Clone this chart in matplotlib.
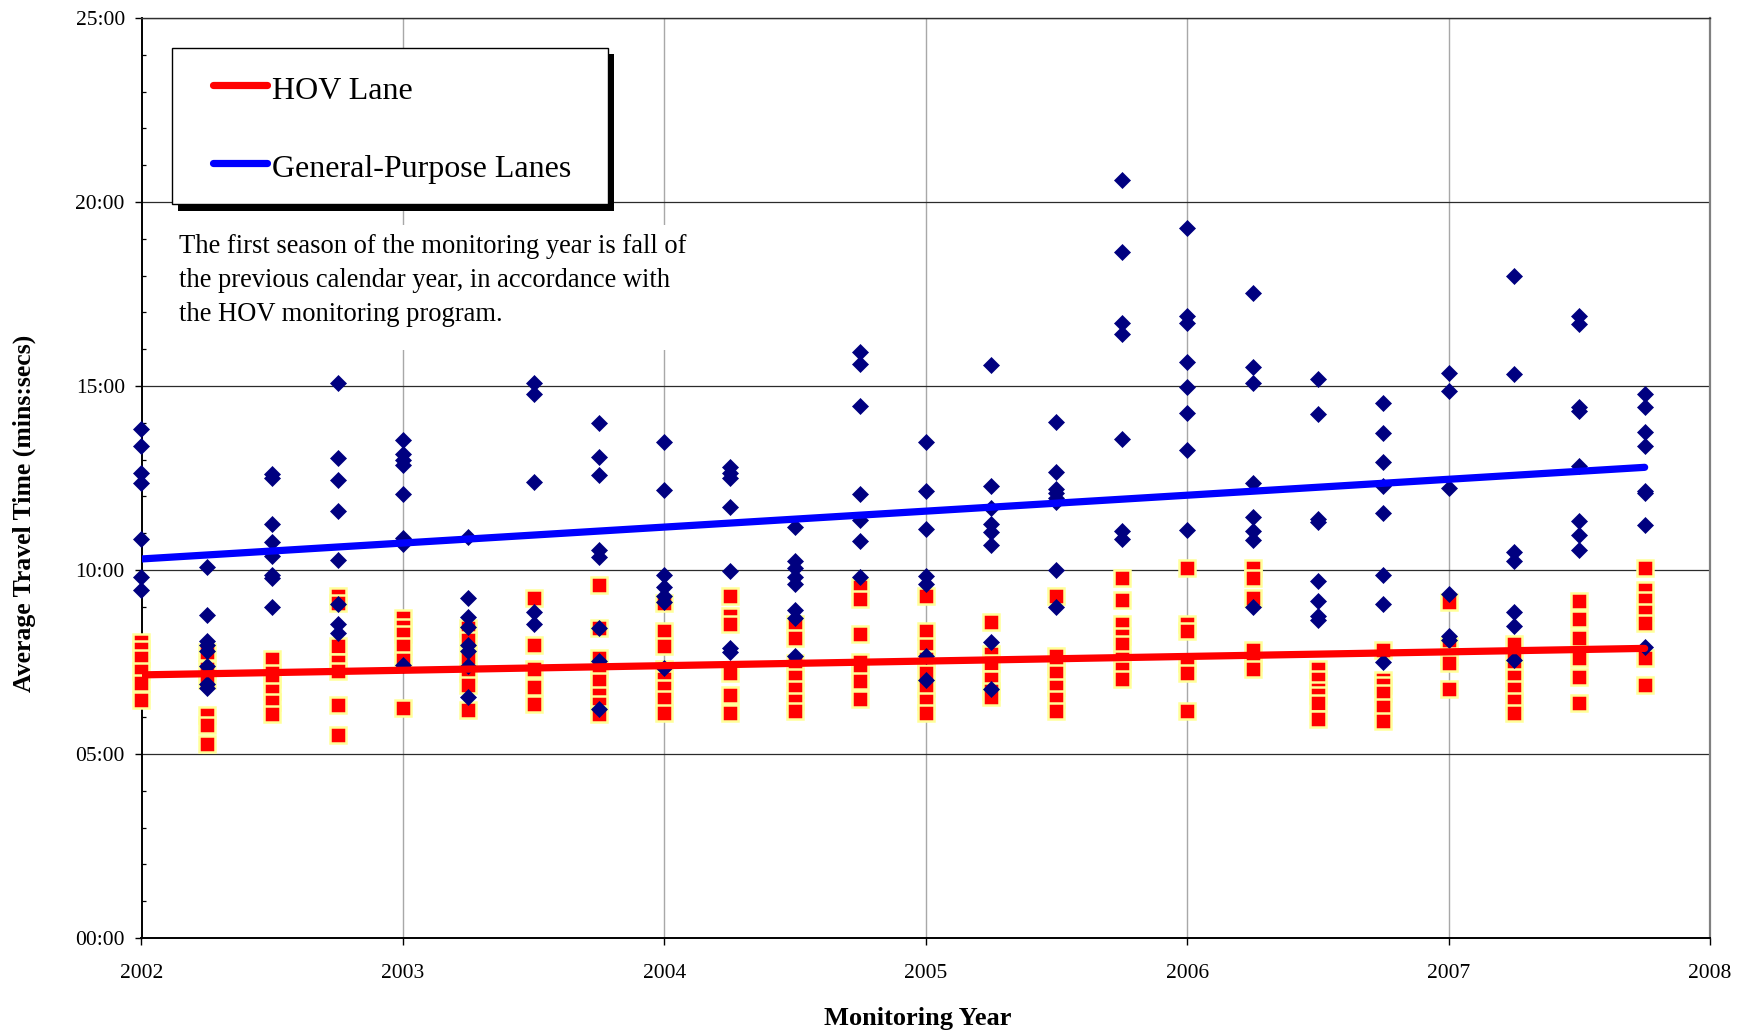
import matplotlib
matplotlib.use("Agg")
import matplotlib.pyplot as plt
from matplotlib.patches import Rectangle
from matplotlib.lines import Line2D
from matplotlib.ticker import FuncFormatter, MultipleLocator

plt.rcParams["font.family"] = ["Liberation Serif", "DejaVu Serif"]

# Monitoring seasons (quarter positions within each monitoring year)
quarters = [2002.0 + 0.25 * i for i in range(24)]

# Average travel times in minutes, general-purpose lanes, one list per season
gp_times = [
    [13.83, 13.38, 12.63, 12.36, 10.84, 9.82, 9.46],
    [10.08, 8.78, 8.08, 7.95, 7.8, 7.4, 6.9, 6.78],
    [12.6, 12.5, 11.24, 10.75, 10.37, 9.87, 9.77, 9.0],
    [15.09, 13.05, 12.44, 11.59, 10.27, 9.07, 8.53, 8.28],
    [13.52, 13.14, 12.98, 12.84, 12.07, 10.86, 10.7, 7.42],
    [10.91, 9.25, 8.71, 8.45, 7.96, 7.8, 7.38, 6.55],
    [15.07, 14.77, 12.38, 8.87, 8.53],
    [14.0, 13.06, 12.58, 10.54, 10.35, 8.42, 7.53, 6.22],
    [13.48, 12.17, 9.87, 9.55, 9.3, 9.12, 7.34],
    [12.8, 12.64, 12.5, 11.72, 9.98, 7.89, 7.78],
    [11.16, 10.25, 10.05, 9.82, 9.62, 8.91, 8.69, 7.67],
    [15.93, 15.61, 14.45, 12.07, 11.35, 10.78, 9.82],
    [13.48, 12.15, 11.12, 9.84, 9.63, 7.67, 7.0],
    [15.58, 12.28, 11.69, 11.26, 11.04, 10.67, 8.05, 6.76],
    [14.03, 12.66, 12.2, 12.1, 11.95, 11.85, 10.0, 8.99],
    [20.61, 18.65, 16.71, 16.41, 13.57, 11.05, 10.84],
    [19.29, 16.91, 16.71, 15.66, 14.98, 14.27, 13.25, 11.1],
    [17.53, 15.52, 15.07, 12.37, 11.43, 11.05, 10.82, 9.0],
    [15.18, 14.24, 11.38, 11.3, 9.71, 9.17, 8.74, 8.64],
    [14.53, 13.73, 12.93, 12.28, 11.55, 9.87, 9.07, 7.51],
    [15.36, 14.86, 12.23, 9.34, 8.21, 8.1],
    [18.0, 15.32, 10.48, 10.25, 8.85, 8.47, 7.56],
    [16.89, 16.68, 14.43, 14.32, 12.82, 11.32, 10.94, 10.54],
    [14.77, 14.43, 13.76, 13.38, 12.15, 12.08, 11.21, 7.91],
]

# Average travel times in minutes, HOV lane, one list per season
hov_times = [
    [8.05, 7.85, 7.62, 7.25, 6.92, 6.47],
    [7.78, 7.3, 7.0, 6.05, 5.8, 5.26],
    [7.57, 7.2, 7.05, 6.71, 6.42, 6.1],
    [9.28, 9.1, 7.94, 7.51, 7.25, 6.33, 5.51],
    [8.69, 8.45, 8.26, 7.94, 7.55, 6.25],
    [8.42, 8.1, 7.62, 7.19, 6.87, 6.2],
    [9.25, 7.96, 7.32, 6.82, 6.35],
    [9.6, 8.42, 7.6, 7.3, 6.98, 6.6, 6.35, 6.1],
    [9.1, 8.33, 7.94, 7.3, 7.05, 6.8, 6.5, 6.12],
    [9.28, 8.74, 8.53, 7.19, 6.6, 6.12],
    [8.53, 8.15, 7.46, 7.1, 6.76, 6.44, 6.17],
    [9.55, 9.22, 8.26, 7.51, 7.3, 6.98, 6.5],
    [9.28, 8.33, 7.94, 7.57, 7.2, 6.8, 6.44, 6.12],
    [8.58, 7.72, 7.46, 7.03, 6.7, 6.55],
    [9.3, 7.67, 7.4, 7.19, 6.82, 6.5, 6.17],
    [9.77, 9.18, 8.53, 8.2, 7.99, 7.57, 7.3, 7.03],
    [10.06, 8.53, 8.35, 7.46, 7.2, 6.17],
    [10.06, 9.77, 9.23, 7.83, 7.51, 7.3],
    [7.3, 7.05, 6.75, 6.6, 6.39, 5.96],
    [7.83, 7.0, 6.87, 6.65, 6.28, 5.9],
    [9.12, 7.94, 7.67, 7.46, 6.76],
    [7.99, 7.62, 7.3, 7.08, 6.76, 6.44, 6.12],
    [9.15, 8.66, 8.15, 7.62, 7.08, 6.39],
    [10.06, 9.45, 9.18, 8.85, 8.56, 7.62, 6.87],
]

# Linear trend lines (start and end of the monitoring period)
trend_years = [2002.0, 2007.75]
hov_trend = [7.15, 7.87]
gp_trend = [10.30, 12.79]

year_ticks = [2002, 2003, 2004, 2005, 2006, 2007, 2008]
legend_labels = ["HOV Lane", "General-Purpose Lanes"]
note_lines = ["The first season of the monitoring year is fall of",
              "the previous calendar year, in accordance with",
              "the HOV monitoring program."]

W, H = 1747, 1036
fig = plt.figure(figsize=(W / 100, H / 100), dpi=100)
ax_l, ax_r, ax_t, ax_b = 141.5, 1710.0, 18.0, 938.0
ax = fig.add_axes([ax_l / W, (H - ax_b) / H, (ax_r - ax_l) / W, (ax_b - ax_t) / H])

# Scatter points
hx = [q for q, vals in zip(quarters, hov_times) for _ in vals]
hy = [v for vals in hov_times for v in vals]
gx = [q for q, vals in zip(quarters, gp_times) for _ in vals]
gy = [v for vals in gp_times for v in vals]

ax.plot(hx, hy, linestyle="none", marker="s", markersize=11.3,
        markerfacecolor="#FF0000", markeredgecolor="#FFFF99",
        markeredgewidth=1.8, zorder=3, clip_on=False)
ax.plot(gx, gy, linestyle="none", marker="D", markersize=8.2,
        markerfacecolor="#000080", markeredgecolor="#000080",
        markeredgewidth=0.5, zorder=4, clip_on=False)

# Trend lines
ax.plot(trend_years, hov_trend, color="#FF0000", lw=5.2,
        solid_capstyle="round", zorder=5)
ax.plot(trend_years, gp_trend, color="#0000FF", lw=5.2,
        solid_capstyle="round", zorder=5)

# Axes
ax.set_xlim(2002, 2008)
ax.set_ylim(0, 25)
ax.set_xticks(year_ticks)
ax.set_xticklabels([str(y) for y in year_ticks])
ax.yaxis.set_major_locator(MultipleLocator(5))
ax.yaxis.set_minor_locator(MultipleLocator(1))


def mmss(v, pos):
    m = int(v)
    s = int(round((v - m) * 60))
    return f"{m:02d}:{s:02d}"


ax.yaxis.set_major_formatter(FuncFormatter(mmss))
ax.tick_params(axis="both", which="major", labelsize=15.5, length=5,
               width=1, direction="out", color="black")
ax.tick_params(axis="y", which="major", pad=7)
ax.tick_params(axis="x", which="major", pad=14)
ax.tick_params(axis="y", which="minor", length=3.2, width=0.9, direction="in")
ax.tick_params(axis="x", which="minor", length=0)

ax.grid(axis="y", which="major", color="#2b2b2b", lw=0.9, zorder=1)
ax.grid(axis="x", which="major", color="#a8a8a8", lw=1.0, zorder=1)
ax.set_axisbelow(True)

for side in ("left", "bottom"):
    ax.spines[side].set_color("black")
    ax.spines[side].set_linewidth(1.4)
ax.spines["top"].set_color("#303030")
ax.spines["top"].set_linewidth(1.0)
ax.spines["right"].set_color("#808080")
ax.spines["right"].set_linewidth(1.6)

ax.set_xlabel("Monitoring Year", fontsize=19, fontweight="bold",
              ha="center", va="center")
ax.xaxis.set_label_coords((918 - ax_l) / (ax_r - ax_l), (ax_b - 1019) / (ax_b - ax_t))
ax.set_ylabel("Average Travel Time (mins:secs)", fontsize=18.5,
              fontweight="bold", ha="center", va="center")
ax.yaxis.set_label_coords((24.5 - ax_l) / (ax_r - ax_l), (ax_b - 513.5) / (ax_b - ax_t))


def afx(px):
    return (px - ax_l) / (ax_r - ax_l)


def afy(py):
    return (ax_b - py) / (ax_b - ax_t)


# Legend box with a solid drop shadow
bx0, bx1, by0, by1 = 172.0, 608.0, 47.7, 204.0
sdx, sdy = 5.5, 6.5
ax.add_patch(Rectangle((afx(bx0 + sdx), afy(by1 + sdy)), afx(bx1) - afx(bx0),
                       afy(by0) - afy(by1), transform=ax.transAxes,
                       facecolor="black", edgecolor="black", lw=0, zorder=7,
                       clip_on=False))
ax.add_patch(Rectangle((afx(bx0), afy(by1)), afx(bx1) - afx(bx0),
                       afy(by0) - afy(by1), transform=ax.transAxes,
                       facecolor="white", edgecolor="black", lw=1.0, zorder=8,
                       clip_on=False))
legend_colors = ["#FF0000", "#0000FF"]
legend_rows = [85.0, 163.0]
for lab, col, ry in zip(legend_labels, legend_colors, legend_rows):
    ax.add_line(Line2D([afx(213), afx(267)], [afy(ry), afy(ry)],
                       transform=ax.transAxes, color=col, lw=5.2,
                       solid_capstyle="round", zorder=9))
    ax.text(afx(272), afy(ry + 14), lab, transform=ax.transAxes,
            fontsize=23, ha="left", va="baseline", zorder=9)

# Explanatory note on a white panel
ax.add_patch(Rectangle((afx(150), afy(350)), afx(700) - afx(150),
                       afy(225) - afy(350), transform=ax.transAxes,
                       facecolor="white", edgecolor="none", zorder=6))
for i, line in enumerate(note_lines):
    ax.text(afx(178.6), afy(253 + 34 * i), line, transform=ax.transAxes,
            fontsize=19.1, ha="left", va="baseline", zorder=7)

fig.savefig("out.png", dpi=100)
